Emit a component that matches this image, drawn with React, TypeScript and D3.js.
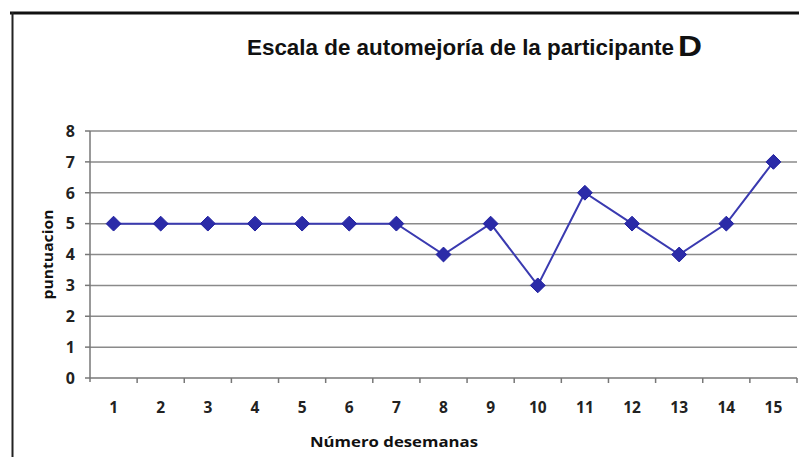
import React from "react";
import * as d3 from "d3";

const weeks = ["1","2","3","4","5","6","7","8","9","10","11","12","13","14","15"];
const scores = [5,5,5,5,5,5,5,4,5,3,6,5,4,5,7];
const yTicks = [0,1,2,3,4,5,6,7,8];

const W = 799, H = 457;
const plot = { left: 90, right: 797, top: 131, bottom: 378 };

export default function App() {
  const x = d3.scaleBand<string>().domain(weeks).range([plot.left, plot.right]);
  const y = d3.scaleLinear().domain([0, 8]).range([plot.bottom, plot.top]);
  const cx = (w: string) => (x(w) as number) + x.bandwidth() / 2;
  const line = d3.line<number>().x((_, i) => cx(weeks[i])).y((d) => y(d));
  const lab = { fontFamily: "'Open Sans', 'DejaVu Sans', sans-serif", fontWeight: 700 };
  return (
    <svg width={W} height={H} style={{ position: "absolute", left: 0, top: 0, background: "#fff" }}>
      <rect x={0} y={0} width={W} height={H} fill="#fff" />
      {/* frame */}
      <line x1={10} x2={W} y1={13} y2={13} stroke="#111" strokeWidth={3} />
      <line x1={12.5} x2={12.5} y1={12} y2={H} stroke="#222" strokeWidth={2} />
      {/* title */}
      <text x={247} y={55} fontFamily="'Liberation Sans', Arial, sans-serif" fontWeight={700} fontSize={22} fill="#111" textLength={427} lengthAdjust="spacingAndGlyphs">
        Escala de automejoría de la participante
      </text>
      <text x={678} y={56} fontFamily="'Liberation Sans', Arial, sans-serif" fontWeight={700} fontSize={30} fill="#111" textLength={24} lengthAdjust="spacingAndGlyphs">D</text>
      {/* gridlines */}
      {yTicks.filter((t) => t > 0).map((t) => (
        <line key={t} x1={plot.left} x2={plot.right} y1={y(t)} y2={y(t)} stroke="#8a8a8a" strokeWidth={1.5} />
      ))}
      {/* y axis */}
      <line x1={plot.left} x2={plot.left} y1={plot.top} y2={plot.bottom + 4} stroke="#777" strokeWidth={1.5} />
      {yTicks.map((t) => (
        <g key={t}>
          <line x1={plot.left - 5} x2={plot.left} y1={y(t)} y2={y(t)} stroke="#777" strokeWidth={1.5} />
          <text x={75} y={y(t)} dy="0.36em" textAnchor="end" fontSize={16} fill="#222" style={lab}>{t}</text>
        </g>
      ))}
      {/* x axis */}
      <line x1={plot.left} x2={plot.right} y1={plot.bottom} y2={plot.bottom} stroke="#777" strokeWidth={1.5} />
      {weeks.map((w) => (
        <g key={w}>
          <line x1={(x(w) as number) + x.bandwidth()} x2={(x(w) as number) + x.bandwidth()} y1={plot.bottom} y2={plot.bottom + 5} stroke="#777" strokeWidth={1.5} />
          <text x={cx(w)} y={413} textAnchor="middle" fontSize={15.5} fill="#222" style={lab}>{w}</text>
        </g>
      ))}
      {/* axis titles */}
      <text x={310} y={447} fontSize={15} fill="#111" style={lab} textLength={168} lengthAdjust="spacingAndGlyphs">Número desemanas</text>
      <text transform={`translate(53,${(plot.top + plot.bottom) / 2}) rotate(-90)`} textAnchor="middle" fontSize={14.5} fill="#111" style={lab} textLength={90} lengthAdjust="spacingAndGlyphs">puntuacion</text>
      {/* series */}
      <path d={line(scores) || ""} fill="none" stroke="#3a3ab0" strokeWidth={2} />
      {scores.map((s, i) => (
        <path key={i} d={d3.symbol().type(d3.symbolDiamond2).size(140)() || ""} transform={`translate(${cx(weeks[i])},${y(s)})`} fill="#2b2ba8" stroke="#2020a0" strokeWidth={1} />
      ))}
    </svg>
  );
}
